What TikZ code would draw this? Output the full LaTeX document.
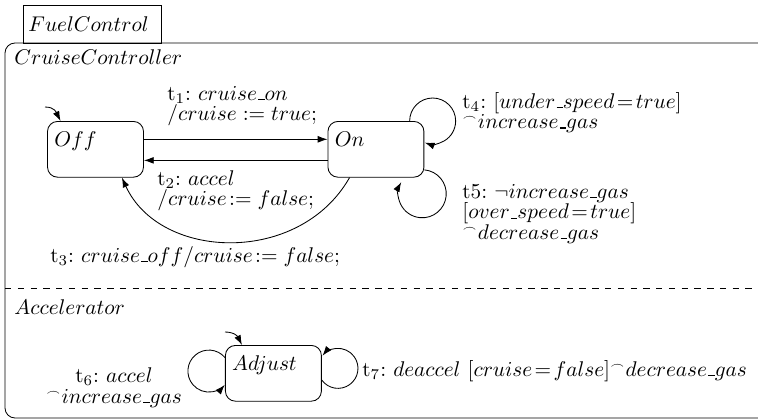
\documentclass[tikz,border=0pt]{standalone}
\usetikzlibrary{arrows.meta}
\newcommand{\emitsym}{{}^{\scriptscriptstyle\frown}}
\newcommand{\us}{\mbox{\kern.06em\vrule width .3em height .5pt depth .1pt}}
\newcommand{\tightlines}{\frenchspacing\baselineskip 9.6pt\lineskiplimit -10pt\relax}
\begin{document}
\begin{tikzpicture}[x=0.47pt,y=-0.47pt,
	state/.style={shape=rectangle,draw,rounded corners=4.7pt,minimum width=45.1pt,minimum height=26.2pt,inner sep=0pt,
		label={[anchor=base west,xshift=3.2pt,yshift=-12.2pt,inner sep=0pt]north west:$#1$}},
	tr/.style={-{Latex[length=4.6pt,width=3.2pt]}},
	trans/.style={anchor=base west,align=left,inner sep=0pt,font=\tightlines},
	title/.style={anchor=base west,inner sep=0pt}]
	\useasboundingbox (0,0) rectangle (758,418);

	% enclosing state, its tab and the two regions
	\draw (23,5) rectangle (161,43);
	\node[title] (fuel) at (28,31) {$FuelControl$};
	\draw[rounded corners=4.7pt] (758,43) -- (5,43) -- (5,418) -- (758,418);
	\draw[dashed] (5,288) -- (758,288);
	\node[title] (cruise) at (14,64) {$CruiseController$};
	\node[title] (accel) at (14,314) {$Accelerator$};

	% states
	\node[state=Off] (off) at (95.5,149.3) {};
	\node[state=On] (on) [right of=off,node distance=131.8pt] {};
	\node[state=Adjust] (adjust) at (273.4,373.3) {};

	% default transitions
	\coordinate (off0) at (45,107);
	\coordinate (adjust0) at (225,332);
	\draw[tr] (off0) .. controls +(10,0) and +(-4,-8) .. (off.141);
	\draw[tr] (adjust0) .. controls +(10,0) and +(-4,-8) .. (adjust.138);

	% transitions
	\draw[tr] ([yshift=4.7pt]off.east) -- ([yshift=4.7pt]on.west);
	\draw[tr] ([yshift=-5.2pt]on.west) -- ([yshift=-5.2pt]off.east);
	\draw[tr] (on.-133) .. controls +(-50,88) and +(38,83) .. (off.-47);
	\draw[tr] (on.40) arc[start angle=-180,end angle=110,radius=23];
	\draw[tr] (on.-23) arc[start angle=-85,end angle=209,radius=24];
	\draw[tr] (adjust.162) arc[start angle=-40,end angle=-319,radius=21];
	\draw[tr] (adjust.-8) arc[start angle=144,end angle=-141,radius=20];

	% transition labels
	\node[trans] (t1) at (167,120.5) {t$_1$: $cruise\us on$\\$/cruise := true$;};
	\node[trans] (t2) at (157,205.5) {t$_2$: $accel$\\$/cruise\!:= false$;};
	\node[trans] (t3) at (50,262) {t$_3$: $cruise\us off/cruise\!:= false$;};
	\node[trans] (t4) at (462,128.5) {t$_4$: $[under\us speed\!=\!true]$\\$\emitsym increase\us gas$};
	\node[trans] (t5) at (462,239) {t5: $\neg increase\us gas$\\$[over\us speed\!=\!true]$\\$\emitsym decrease\us gas$};
	\node[trans,anchor=base,align=center] (t6) at (114,403) {t$_6$: $accel$\\$\emitsym increase\us gas$};
	\node[trans] (t7) at (362,376) {t$_7$: $deaccel$ $[cruise\!=\!false]\emitsym decrease\us gas$};
\end{tikzpicture}
\end{document}
